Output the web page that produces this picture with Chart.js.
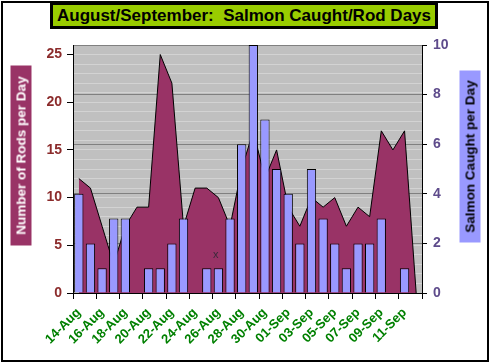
<!DOCTYPE html>
<html>
<head>
<meta charset="utf-8">
<script src="https://cdn.jsdelivr.net/npm/chart.js@4.4.1/dist/chart.umd.min.js"></script>
<style>
  html, body { margin: 0; padding: 0; background: #fff; }
  #wrap { position: relative; width: 490px; height: 364px; overflow: hidden; font-family: Arial, 'Liberation Sans', sans-serif; }
  #chart { position: absolute; left: 0; top: 0; }
  #frame { position: absolute; left: 1px; top: 1px; width: 484px; height: 357px; border: 2px solid #000; pointer-events: none; }
  .main-title { position: absolute; left: 50px; top: 2px; width: 382px; height: 21px; border: 3px solid #000; background: #99cc00; color: #000; font-weight: bold; font-size: 17px; line-height: 21px; text-align: center; white-space: pre; }
  .axis-title { position: absolute; height: 21px; line-height: 21px; font-weight: bold; font-size: 13.5px; text-align: center; white-space: nowrap; transform: rotate(-90deg); }
  .rods-title { left: -69.5px; top: 144.5px; width: 180px; background: #993366; color: #fff; }
  .salmon-title { left: 383.5px; top: 145.5px; width: 172px; background: #9999ff; color: #000; }
  .stray { position: absolute; left: 213px; top: 248px; font-size: 11px; color: #3a2a3a; }
</style>
</head>
<body>
<div id="wrap">
  <canvas id="chart" width="490" height="364"></canvas>
  <div class="main-title">August/September:  Salmon Caught/Rod Days</div>
  <div class="axis-title rods-title">Number of Rods per Day</div>
  <div class="axis-title salmon-title">Salmon Caught per Day</div>
  <span class="stray">x</span>
  <div id="frame"></div>
</div>
<script>
const days = [
  '14-Aug', '15-Aug', '16-Aug', '17-Aug', '18-Aug', '19-Aug', '20-Aug', '21-Aug', '22-Aug',
  '23-Aug', '24-Aug', '25-Aug', '26-Aug', '27-Aug', '28-Aug', '29-Aug', '30-Aug', '31-Aug',
  '01-Sep', '02-Sep', '03-Sep', '04-Sep', '05-Sep', '06-Sep', '07-Sep', '08-Sep', '09-Sep',
  '10-Sep', '11-Sep', '12-Sep'
];
const rodsPerDay = [12, 11, 7, 3, 7, 9, 9, 25, 22, 7, 11, 11, 10, 7, 13, 17, 12, 15, 9, 7, 10, 9, 10, 7, 9, 8, 17, 15, 17, 0];
const salmonPerDay = [4, 2, 1, 3, 3, 0, 1, 1, 2, 3, 0, 1, 1, 3, 6, 10, 7, 5, 4, 2, 5, 3, 2, 1, 2, 2, 3, 0, 1, 0];
const rodsAxisMax = 26;
const rodsLabelStep = 5;
const salmonAxisMax = 10;
const salmonLabelStep = 2;

const FONT = "Arial, 'Liberation Sans', sans-serif";
const CLEAR = 'rgba(0,0,0,0)';

// grey plot area like the spreadsheet original
const plotBackground = {
  id: 'plotBackground',
  beforeDraw(chart) {
    const { ctx, chartArea: a } = chart;
    ctx.save();
    ctx.fillStyle = '#c0c0c0';
    ctx.fillRect(a.left, a.top, a.right - a.left, a.bottom - a.top);
    ctx.restore();
  }
};

new Chart(document.getElementById('chart'), {
  type: 'bar',
  data: {
    labels: days,
    datasets: [
      {
        type: 'bar',
        label: 'Salmon Caught per Day',
        data: salmonPerDay,
        yAxisID: 'y1',
        backgroundColor: '#9999ff',
        borderColor: '#000',
        borderWidth: 1,
        barPercentage: 0.8,
        categoryPercentage: 1,
        order: 1
      },
      {
        type: 'line',
        label: 'Number of Rods per Day',
        data: rodsPerDay,
        yAxisID: 'y',
        fill: 'origin',
        backgroundColor: '#993366',
        borderColor: '#000',
        borderWidth: 1,
        pointRadius: 0,
        tension: 0,
        order: 2
      }
    ]
  },
  options: {
    responsive: false,
    devicePixelRatio: 1,
    animation: false,
    layout: { padding: { top: 45, left: 0, right: 0, bottom: 0 } },
    plugins: { legend: { display: false }, tooltip: { enabled: false }, title: { display: false } },
    scales: {
      x: {
        offset: true,
        grid: {
          offset: true,
          drawOnChartArea: false,
          tickLength: 6,
          tickColor: (c) => ((c.index ?? 0) % 2 === 0 ? '#000' : CLEAR)
        },
        border: { color: '#000', width: 1 },
        ticks: {
          autoSkip: false,
          maxRotation: 45,
          minRotation: 45,
          padding: 6,
          color: '#008000',
          font: { family: FONT, size: 13, weight: 'bold' },
          callback: (value, i) => (i % 2 === 0 ? days[i] : '')
        },
        afterFit(scale) { scale.height = 71; }
      },
      y: {
        position: 'left',
        min: 0,
        max: rodsAxisMax,
        grid: {
          color: (c) => (c.tick && c.tick.value === 0 ? CLEAR : 'rgba(225,225,225,0.55)'),
          tickLength: 6,
          tickColor: (c) => (c.tick && c.tick.value % rodsLabelStep === 0 ? '#000' : CLEAR)
        },
        border: { color: '#000', width: 1 },
        ticks: {
          stepSize: 1,
          autoSkip: false,
          padding: 5,
          color: '#8b2b2b',
          font: { family: FONT, size: 14, weight: 'bold' },
          callback: (value) => (value % rodsLabelStep === 0 ? value : '')
        },
        afterFit(scale) { scale.width = 73; }
      },
      y1: {
        position: 'right',
        min: 0,
        max: salmonAxisMax,
        grid: {
          color: (c) => (c.tick && c.tick.value === 0 ? CLEAR : '#808080'),
          tickLength: 5,
          tickColor: '#000'
        },
        border: { color: '#000', width: 1 },
        ticks: {
          stepSize: salmonLabelStep,
          padding: 6,
          color: '#5e4b8b',
          font: { family: FONT, size: 14, weight: 'bold' }
        },
        afterFit(scale) { scale.width = 68; }
      }
    }
  },
  plugins: [plotBackground]
});
</script>
</body>
</html>
